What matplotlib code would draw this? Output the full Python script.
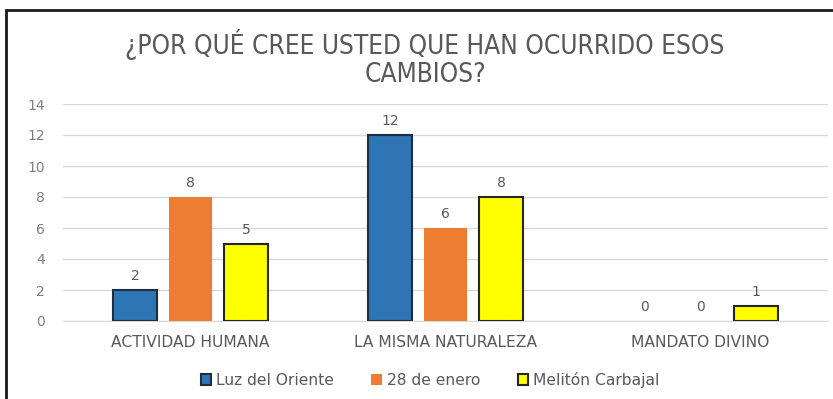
import matplotlib
matplotlib.use("Agg")
import matplotlib.pyplot as plt
import numpy as np
from matplotlib.patches import Rectangle

categories = ["ACTIVIDAD HUMANA", "LA MISMA NATURALEZA", "MANDATO DIVINO"]
series_names = ["Luz del Oriente", "28 de enero", "Melitón Carbajal"]
luz = [2, 12, 0]
enero = [8, 6, 0]
meliton = [5, 8, 1]
title = "¿POR QUÉ CREE USTED QUE HAN OCURRIDO ESOS\nCAMBIOS?"

colors = ["#2E75B6", "#ED7D31", "#FFFF00"]
edges = ["#1F2D3D", "#ED7D31", "#262626"]

fig = plt.figure(figsize=(8.33, 3.99), dpi=100)
ax = fig.add_axes([63/833, 1-321/399, 765/833, (321-104)/399])

x = np.arange(len(categories))
w = 0.172
step = 0.218
for i, (vals, c, ec, name) in enumerate(zip([luz, enero, meliton], colors, edges, series_names)):
    pos = x + (i-1)*step
    lw = [(1.5 if (i != 1 and v > 0) else 0) for v in vals]
    ax.bar(pos, vals, width=w, color=c, edgecolor=ec, linewidth=lw, label=name, zorder=3)
    for p, v in zip(pos, vals):
        ax.text(p, v + 0.45, str(v), ha="center", va="bottom", fontsize=10, color="#595959", family="DejaVu Sans")

ax.set_xlim(-0.5, 2.5)
ax.set_ylim(0, 14)
ax.set_yticks(range(0, 15, 2))
ax.set_xticks(x)
ax.set_xticklabels(categories, fontsize=11.2, color="#595959", family="DejaVu Sans")
for lbl in ax.get_yticklabels():
    lbl.set_fontsize(10); lbl.set_color("#808080"); lbl.set_family("DejaVu Sans")
ax.tick_params(length=0)
ax.tick_params(axis="x", pad=10)
ax.tick_params(axis="y", pad=13)
ax.yaxis.grid(True, color="#D9D9D9", linewidth=1, zorder=0)
for s in ["top", "right", "left"]:
    ax.spines[s].set_visible(False)
ax.spines["bottom"].set_color("#D9D9D9")

fig.text(425/833, 1-59/399, title, ha="center", va="center", fontsize=18.8, color="#595959",
         family="DejaVu Sans", linespacing=1.1, fontstretch="condensed")

leg = ax.legend(loc="center", ncol=3, frameon=False,
                prop={"family": "DejaVu Sans", "size": 11.2}, handlelength=0.7, handleheight=0.7,
                columnspacing=2.4, handletextpad=0.3)
leg.set_bbox_to_anchor((430/833, 1-380/399), transform=fig.transFigure)
for t in leg.get_texts():
    t.set_color("#595959")

fig.patches.append(Rectangle((6/833, -0.01), 1 - 6/833 + 0.01, 1 - 10/399 + 0.01, transform=fig.transFigure,
                             fill=False, edgecolor="#1a1a1a", linewidth=2, zorder=10))

fig.savefig("out.png", dpi=100)
